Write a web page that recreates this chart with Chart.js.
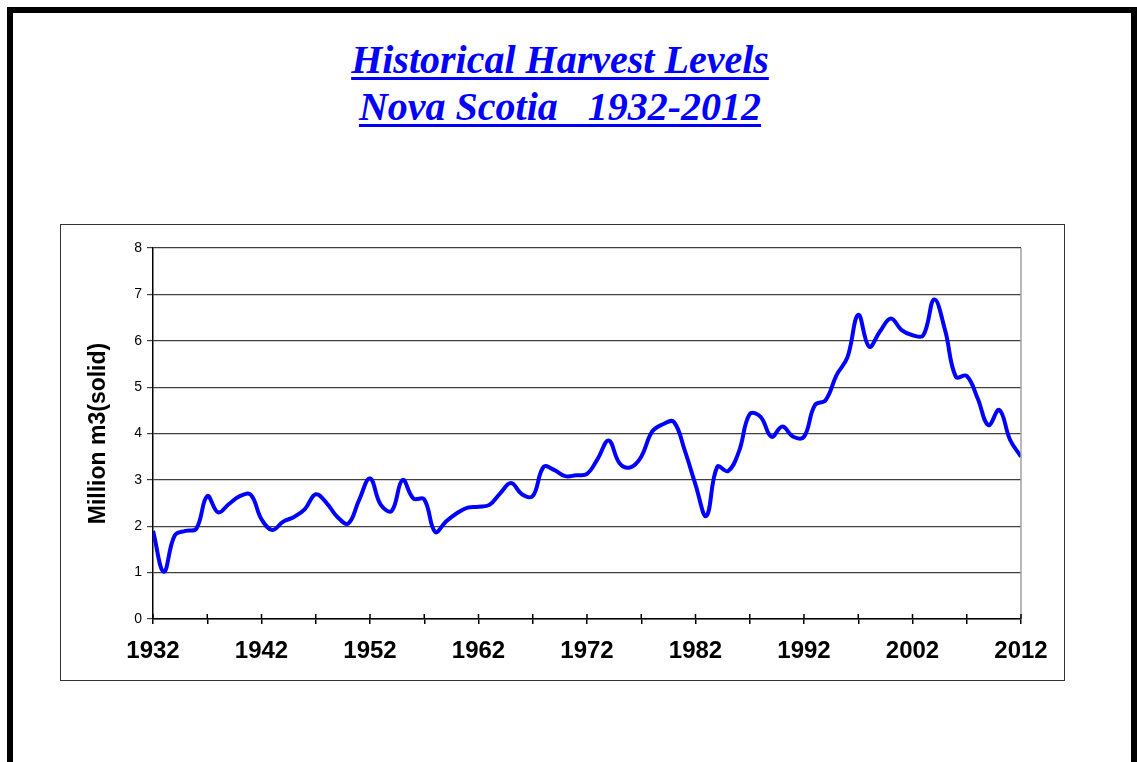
<!DOCTYPE html>
<html>
<head>
<meta charset="utf-8">
<script src="https://cdn.jsdelivr.net/npm/chart.js@4/dist/chart.umd.min.js"></script>
<style>
  body { margin: 0; background: #fff; overflow: hidden; }
  #frame {
    position: absolute; left: 7px; top: 7px; width: 1118px; height: 780px;
    border-left: 6px solid #000; border-top: 6px solid #000; border-right: 6px solid #000;
  }
  #title {
    position: absolute; left: 0; width: 1120px; top: 36px; text-align: center;
    font-family: "Liberation Serif", "Times New Roman", serif;
    font-weight: bold; font-style: italic; font-size: 40px; line-height: 47px;
    color: #0000ff; text-decoration: underline; text-decoration-thickness: 3px;
    text-underline-offset: 4px;
    white-space: pre;
  }
  #box {
    position: absolute; left: 60px; top: 224px; width: 1003px; height: 455px;
    border: 1px solid #333;
  }
</style>
</head>
<body>
<div id="frame"></div>
<div id="title">Historical Harvest Levels<br>Nova Scotia   1932-2012</div>
<div id="box"><canvas id="c" width="1003" height="455"></canvas></div>
<script>
// harvest volumes, million m3 (solid)
const years = [];
for (let y = 1932; y <= 2012; y++) years.push(y);

const harvest = [
  1.9, 1.02, 1.8, 1.9, 1.95, 2.65, 2.3, 2.48, 2.65, 2.68,
  2.15, 1.92, 2.1, 2.2, 2.37, 2.69, 2.5, 2.2, 2.06, 2.57,
  3.03, 2.46, 2.33, 3.0, 2.6, 2.58, 1.88, 2.1, 2.28, 2.4,
  2.42, 2.46, 2.71, 2.93, 2.69, 2.65, 3.28, 3.21, 3.08, 3.1,
  3.13, 3.46, 3.85, 3.36, 3.27, 3.5, 4.04, 4.2, 4.25, 3.64,
  2.9, 2.22, 3.28, 3.19, 3.61, 4.42, 4.36, 3.93, 4.15, 3.93,
  3.93, 4.61, 4.72, 5.26, 5.64, 6.56, 5.87, 6.2, 6.48, 6.23,
  6.12, 6.12, 6.89, 6.23, 5.22, 5.24, 4.76, 4.18, 4.51, 3.86,
  3.5
];

const yTicks = [0, 1, 2, 3, 4, 5, 6, 7, 8];

// gray right edge + tick marks that cross the x axis, like the old excel chart
const axisBits = {
  id: "axisBits",
  afterDraw(chart) {
    const a = chart.chartArea, ctx = chart.ctx, xs = chart.scales.x;
    ctx.save();
    ctx.strokeStyle = "#a0a0a0";
    ctx.lineWidth = 1.5;
    ctx.beginPath();
    ctx.moveTo(a.right, a.top);
    ctx.lineTo(a.right, a.bottom);
    ctx.stroke();
    ctx.strokeStyle = "#000";
    ctx.beginPath();
    xs.ticks.forEach(t => {
      const px = xs.getPixelForValue(t.value);
      ctx.moveTo(px, a.bottom - 5);
      ctx.lineTo(px, a.bottom);
    });
    ctx.stroke();
    ctx.restore();
  }
};

new Chart(document.getElementById("c"), {
  type: "line",
  data: {
    datasets: [{
      data: years.map((y, i) => ({ x: y, y: harvest[i] })),
      borderColor: "#0000ff",
      borderWidth: 4,
      pointRadius: 0,
      tension: 0.4,
      fill: false
    }]
  },
  options: {
    responsive: false,
    animation: false,
    layout: { padding: { left: 0, top: 23, right: 43, bottom: 0 } },
    plugins: { legend: { display: false }, tooltip: { enabled: false } },
    scales: {
      x: {
        type: "linear",
        min: 1932, max: 2012,
        afterBuildTicks: s => { s.ticks = years.filter(y => (y - 1932) % 5 === 0).map(v => ({ value: v })); },
        afterFit: s => { s.height = 61; },
        grid: { drawOnChartArea: false, drawTicks: true, tickLength: 5, color: "#000", lineWidth: 1.5 },
        border: { color: "#000", width: 1.5 },
        ticks: {
          autoSkip: false, maxRotation: 0, padding: 13, color: "#000",
          font: { family: "Liberation Sans, Arial", size: 24, weight: "bold" },
          callback: v => ((v - 1932) % 10 === 0 ? String(v) : "")
        }
      },
      y: {
        min: 0, max: 8,
        afterBuildTicks: s => { s.ticks = yTicks.map(v => ({ value: v })); },
        afterFit: s => { s.width = 92; },
        grid: { color: "#404040", lineWidth: 1.2, drawTicks: true, tickLength: 6 },
        border: { color: "#000", width: 1.5 },
        ticks: { color: "#000", padding: 5, font: { family: "Liberation Sans, Arial", size: 14 } },
        title: {
          display: true, text: "Million m3(solid)", color: "#000",
          padding: { top: 24, bottom: 4 },
          font: { family: "Liberation Sans, Arial", size: 23, weight: "bold" }
        }
      }
    }
  },
  plugins: [axisBits]
});
</script>
</body>
</html>
